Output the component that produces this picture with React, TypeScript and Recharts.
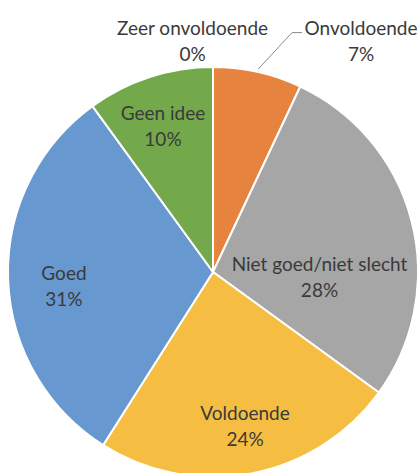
import React from 'react';
import { PieChart, Pie, Cell } from 'recharts';

const categories = ['Onvoldoende', 'Niet goed/niet slecht', 'Voldoende', 'Goed', 'Geen idee', 'Zeer onvoldoende'];
const shares = [7, 28, 24, 31, 10, 0];
const percentLabels = ['7%', '28%', '24%', '31%', '10%', '0%'];

const colors = ['#E6833F', '#A6A6A6', '#F5BE42', '#6798D0', '#73A94B', '#4A72B8'];

// label placement: radius as fraction of outer radius, angle clockwise from 12 o'clock
const labelLayout = [
  { r: 1.34, a: 32.6, leader: true },
  { r: 0.52, a: 92.4, leader: false },
  { r: 0.765, a: 168.2, leader: false },
  { r: 0.73, a: 264.8, leader: false },
  { r: 0.753, a: 341.1, leader: false },
  { r: 1.136, a: 354.95, leader: false },
];

const data = categories.map((name, i) => ({ name, value: shares[i], pct: percentLabels[i] }));

const RAD = Math.PI / 180;
const polar = (cx: number, cy: number, r: number, a: number) => [cx + r * Math.sin(a * RAD), cy - r * Math.cos(a * RAD)];

const FONT = 'Lato, "Open Sans", sans-serif';
const TEXT_COLOR = '#3A3A3A';

const renderLabel = (props: any) => {
  const { cx, cy, outerRadius, index, midAngle } = props;
  const L = labelLayout[index];
  const [x, y] = polar(cx, cy, outerRadius * L.r, L.a);
  const lh = 26;
  let leader = null;
  if (L.leader) {
    const mid = 90 - midAngle;
    const [sx, sy] = polar(cx, cy, outerRadius + 3, mid);
    const ex = x - 69;
    const ey = y - 8;
    leader = (
      <polyline
        points={`${sx},${sy} ${ex},${ey} ${ex + 10},${ey}`}
        fill="none"
        stroke="#8C8C8C"
        strokeWidth={1}
      />
    );
  }
  return (
    <g key={`lbl-${index}`}>
      {leader}
      <text x={x} y={y} textAnchor="middle" fill={TEXT_COLOR} fontFamily={FONT} fontSize={19}>
        <tspan x={x} y={y - lh / 2} dominantBaseline="central">{data[index].name}</tspan>
        <tspan x={x} y={y + lh / 2} dominantBaseline="central">{data[index].pct}</tspan>
      </text>
    </g>
  );
};

export default function App() {
  return (
    <div style={{ position: 'absolute', left: 0, top: 0, width: 417, height: 473, overflow: 'hidden', background: '#fff' }}>
      <PieChart width={417} height={473} margin={{ top: 0, right: 0, bottom: 0, left: 0 }}>
        <Pie
          data={data}
          dataKey="value"
          nameKey="name"
          cx={213}
          cy={272}
          outerRadius={205}
          startAngle={90}
          endAngle={-270}
          stroke="#FFFFFF"
          strokeWidth={2}
          label={renderLabel}
          labelLine={false}
          isAnimationActive={false}
        >
          {data.map((d, i) => (
            <Cell key={d.name} fill={colors[i]} />
          ))}
        </Pie>
      </PieChart>
    </div>
  );
}
